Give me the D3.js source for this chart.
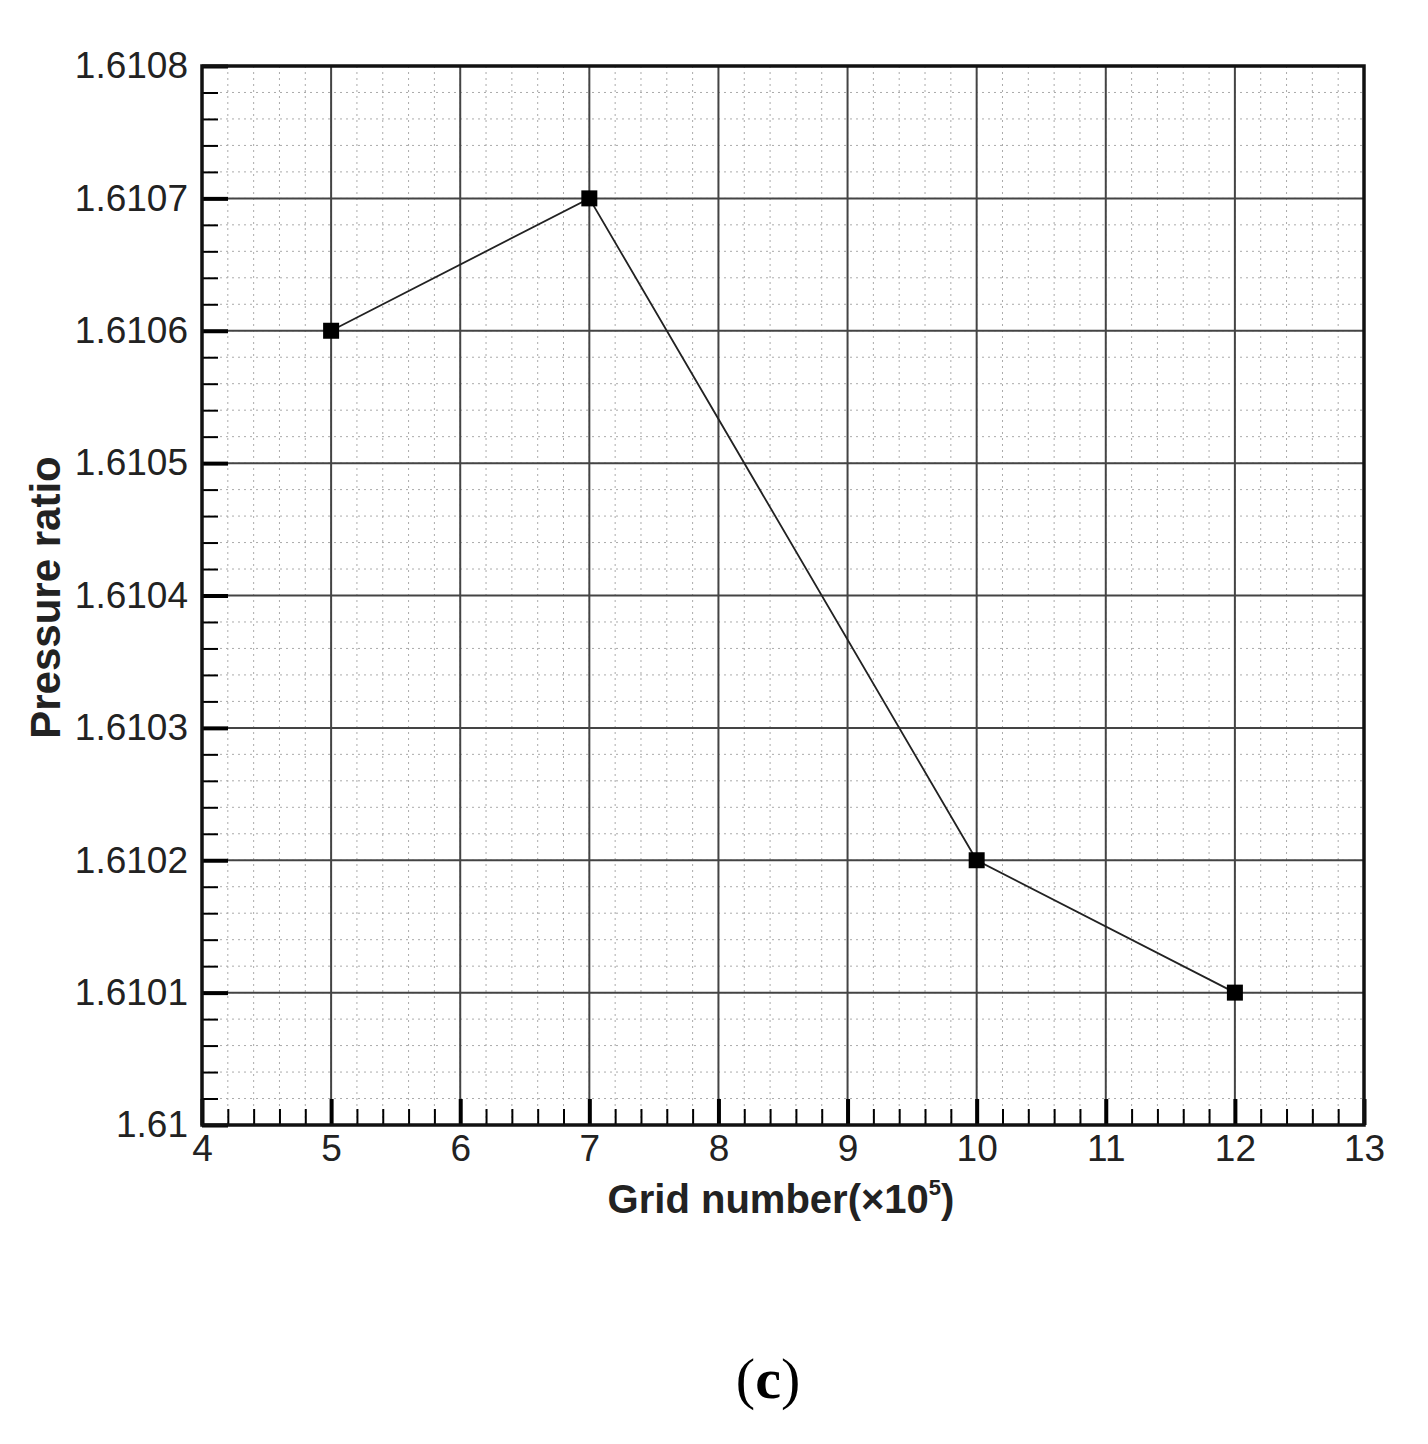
<!DOCTYPE html>
<html>
<head>
<script src="https://d3js.org/d3.v7.min.js"></script>
<style>body{margin:0;background:#fff}</style>
</head>
<body>
<script>
var gridNumber = [5, 7, 10, 12];
var pressureRatio = [1.6106, 1.6107, 1.6102, 1.6101];
var xTicks = [4, 5, 6, 7, 8, 9, 10, 11, 12, 13];
var yTicks = [1.61, 1.6101, 1.6102, 1.6103, 1.6104, 1.6105, 1.6106, 1.6107, 1.6108];
var yLabels = ["1.61", "1.6101", "1.6102", "1.6103", "1.6104", "1.6105", "1.6106", "1.6107", "1.6108"];

var W = 1428, H = 1444;
var L = 202, R = 1364, T = 66, B = 1125;
var svg = d3.select("body").append("svg").attr("width", W).attr("height", H);
var x = d3.scaleLinear().domain([4, 13]).range([L, R]);
var y = d3.scaleLinear().domain([1.61, 1.6108]).range([B, T]);

var xMinor = d3.range(4, 13.001, 0.2);
var yMinor = d3.range(0, 41).map(function (i) { return 1.61 + i * 0.00002; });

// dotted minor grid
svg.append("g").selectAll("line").data(xMinor).enter().append("line")
  .attr("x1", function (d) { return x(d); }).attr("x2", function (d) { return x(d); })
  .attr("y1", T).attr("y2", B).attr("stroke", "#aaa").attr("stroke-width", 1).attr("stroke-dasharray", "2,4");
svg.append("g").selectAll("line").data(yMinor).enter().append("line")
  .attr("y1", function (d) { return y(d); }).attr("y2", function (d) { return y(d); })
  .attr("x1", L).attr("x2", R).attr("stroke", "#aaa").attr("stroke-width", 1).attr("stroke-dasharray", "2,4");

// major grid
svg.append("g").selectAll("line").data(xTicks).enter().append("line")
  .attr("x1", function (d) { return x(d); }).attr("x2", function (d) { return x(d); })
  .attr("y1", T).attr("y2", B).attr("stroke", "#444").attr("stroke-width", 2);
svg.append("g").selectAll("line").data(yTicks).enter().append("line")
  .attr("y1", function (d) { return y(d); }).attr("y2", function (d) { return y(d); })
  .attr("x1", L).attr("x2", R).attr("stroke", "#444").attr("stroke-width", 2);

// axes with inward ticks
var xAxis = svg.append("g").attr("transform", "translate(0," + B + ")")
  .call(d3.axisBottom(x).tickValues(xTicks).tickSize(-26).tickPadding(16).tickFormat(d3.format("d")));
svg.append("g").attr("transform", "translate(0," + B + ")")
  .call(d3.axisBottom(x).tickValues(xMinor).tickSize(-16).tickFormat(""))
  .call(function (g) { g.select(".domain").remove(); g.selectAll("line").attr("stroke-width", 2); });
var yAxis = svg.append("g").attr("transform", "translate(" + L + ",0)")
  .call(d3.axisLeft(y).tickValues(yTicks).tickSize(-26).tickPadding(14).tickFormat(function (d, i) { return yLabels[i]; }));
svg.append("g").attr("transform", "translate(" + L + ",0)")
  .call(d3.axisLeft(y).tickValues(yMinor).tickSize(-16).tickFormat(""))
  .call(function (g) { g.select(".domain").remove(); g.selectAll("line").attr("stroke-width", 2); });
[xAxis, yAxis].forEach(function (g) {
  g.select(".domain").remove();
  g.selectAll("line").attr("stroke", "#000").attr("stroke-width", 4);
  g.selectAll("text").attr("font-family", "Liberation Sans, Arial, sans-serif").attr("font-size", 37).attr("fill", "#222");
});
xAxis.selectAll("text").attr("dy", "0.55em");

// frame
svg.append("rect").attr("x", L).attr("y", T).attr("width", R - L).attr("height", B - T)
  .attr("fill", "none").attr("stroke", "#111").attr("stroke-width", 3.5);

// series
var line = d3.line().x(function (d, i) { return x(gridNumber[i]); }).y(function (d) { return y(d); });
svg.append("path").datum(pressureRatio).attr("d", line).attr("fill", "none").attr("stroke", "#222").attr("stroke-width", 1.8);
svg.append("g").selectAll("rect").data(pressureRatio).enter().append("rect")
  .attr("x", function (d, i) { return x(gridNumber[i]) - 8; }).attr("y", function (d) { return y(d) - 8; })
  .attr("width", 16).attr("height", 16).attr("fill", "#000");

// titles
var xt = svg.append("text").attr("x", (L + R) / 2 - 2).attr("y", 1213).attr("text-anchor", "middle")
  .attr("font-family", "Liberation Sans, Arial, sans-serif").attr("font-weight", "bold").attr("font-size", 40).attr("fill", "#222");
xt.append("tspan").text("Grid number(\u00d710");
xt.append("tspan").attr("font-size", 22).attr("dy", -18).text("5");
xt.append("tspan").attr("dy", 18).text(")");
svg.append("text").attr("transform", "translate(60," + ((T + B) / 2 + 2) + ") rotate(-90)").attr("text-anchor", "middle")
  .attr("font-family", "Liberation Sans, Arial, sans-serif").attr("font-weight", "bold").attr("font-size", 42).attr("fill", "#222")
  .text("Pressure ratio");
svg.append("text").attr("x", 768).attr("y", 1398).attr("text-anchor", "middle")
  .attr("font-family", "Liberation Serif, Times New Roman, serif").attr("font-size", 58).attr("fill", "#000")
  .html("(<tspan font-weight='bold'>c</tspan>)");
</script>
</body>
</html>
